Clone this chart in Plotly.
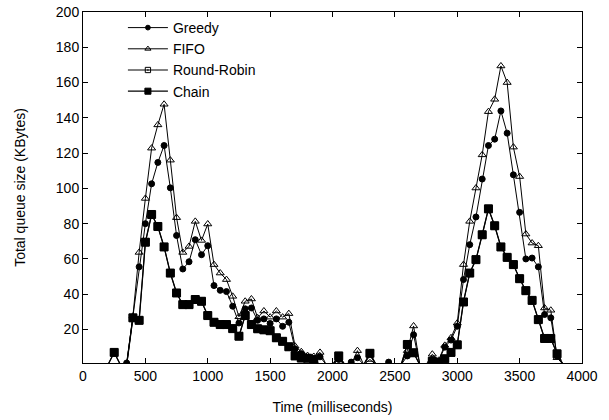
import plotly.graph_objects as go

times = list(range(200, 3851, 50))

greedy = [0, 0, 0, 1, 27, 55.5, 80, 102.6, 114.7, 124.3, 100.3, 73.3, 54.3, 58.4, 70.9, 62.4,
          67.5, 44.9, 42.2, 41.5, 33.2, 23.7, 31.7, 32.2, 25.2, 26, 23.4, 26, 21.8, 24.1,
          9, 6.3, 4, 3.4, 4.5, 0, 0, 3, 0, 1.5, 4, 0, 0, 0, 0, 1.5, 0, 0, 5, 17,
          0, 0, 3, 2, 10, 14, 21.8, 48.3, 68.1, 83.8, 105.3, 124.3, 127.9, 143.9, 131.3, 107.7,
          86.4, 60, 60.5, 55.5, 28.5, 26.6, 5, 0]

fifo = [0, 0, 0, 0, 27.5, 63.7, 94.3, 122.8, 136, 147.7, 116, 83.4, 63.7, 67.1, 81.3, 70.5,
        79.8, 56.8, 52, 48.3, 38.8, 27.2, 36, 37.3, 26.6, 30.5, 27, 30.5, 27, 29,
        10.5, 7.4, 5.2, 4.7, 7, 0, 0, 3, 0, 0, 8, 0, 3, 0, 0, 0, 0, 0, 8, 22,
        0, 0, 6, 2.5, 11, 15.3, 23.6, 56.8, 81.3, 100.2, 119, 143.5, 150.5, 169.4, 160, 123.4,
        106.7, 74.1, 69, 67.5, 32.2, 30.9, 4, 0]

chain = [0, 7, 0, 0, 26.6, 25.2, 69.5, 85.2, 78.4, 66.8, 52, 40.7, 34.1, 34.1, 37, 36,
         27.9, 24.1, 22.8, 22.8, 20.5, 16.2, 27.9, 22.8, 20.4, 19.8, 19.3, 15.3, 13.3, 10.2,
         5, 3.8, 3.7, 2.9, 0, 0, 0, 5, 0, 0, 0, 0, 6.5, 0, 0, 0, 0, 0, 11.5, 6.8,
         0, 0, 2, 1.2, 3.4, 7, 11.3, 35.6, 52, 59.6, 73.7, 88.4, 78.8, 66.8, 60.9, 56.8,
         48.8, 42, 36.5, 25.6, 14.9, 14.9, 6.2, 0]

round_robin = [0, 7, 0, 0, 26.6, 25.2, 69.5, 85.2, 78.4, 66.8, 52, 40.7, 34.1, 34.1, 37, 36,
               27.9, 24.1, 22.8, 22.8, 20.5, 16.2, 27.9, 22.8, 20.4, 19.8, 19.3, 15.3, 13.3, 10.2,
               5, 3.8, 3.7, 2.9, 0, 0, 0, 5, 0, 0, 0, 0, 6.5, 0, 0, 0, 0, 0, 11.5, 6.8,
               0, 0, 2, 1.2, 3.4, 7, 11.3, 35.6, 52, 59.6, 73.7, 88.4, 78.8, 66.8, 60.9, 56.8,
               48.8, 42, 36.5, 25.6, 14.9, 14.9, 6.2, 0]

series = [
    ("Greedy", greedy, "circle", 6, 1.0),
    ("FIFO", fifo, "triangle-up-open", 7, 1.0),
    ("Round-Robin", round_robin, "square-open-dot", 7, 1.0),
    ("Chain", chain, "square", 8, 1.3),
]

fig = go.Figure()
for name, vals, sym, sz, lw in series:
    fig.add_trace(go.Scatter(
        x=times, y=vals, name=name, mode="lines+markers",
        line=dict(color="black", width=lw),
        marker=dict(symbol=sym, size=[sz if v > 0 else 0 for v in vals], color="black",
                    opacity=1, line=dict(color="black", width=1)),
    ))

fig.update_layout(
    width=609, height=420,
    margin=dict(l=83, r=27, t=12, b=57),
    plot_bgcolor="white", paper_bgcolor="white",
    font=dict(family="Liberation Sans, Arial, sans-serif", size=14, color="black"),
    showlegend=True,
    legend=dict(x=0.08, y=1.0, xanchor="left", yanchor="top",
                bgcolor="rgba(0,0,0,0)", font=dict(size=14), tracegroupgap=0,
                itemwidth=40),
)
fig.update_xaxes(
    range=[0, 4000], dtick=500, tick0=0, automargin=False,
    ticks="inside", ticklen=5, tickcolor="black",
    showline=True, linecolor="black", linewidth=1, mirror="ticks",
    showgrid=False, zeroline=False,
    title=dict(text="Time (milliseconds)", standoff=19, font=dict(size=14)),
    tickfont=dict(size=14),
)
fig.update_yaxes(
    range=[1, 200], dtick=20, tick0=0, automargin=False,
    ticks="inside", ticklen=5, tickcolor="black",
    showline=True, linecolor="black", linewidth=1, mirror="ticks",
    showgrid=False, zeroline=False,
    title=dict(text="Total queue size (KBytes)", standoff=26, font=dict(size=14)),
    tickfont=dict(size=14),
)

fig.write_html("out.html")
